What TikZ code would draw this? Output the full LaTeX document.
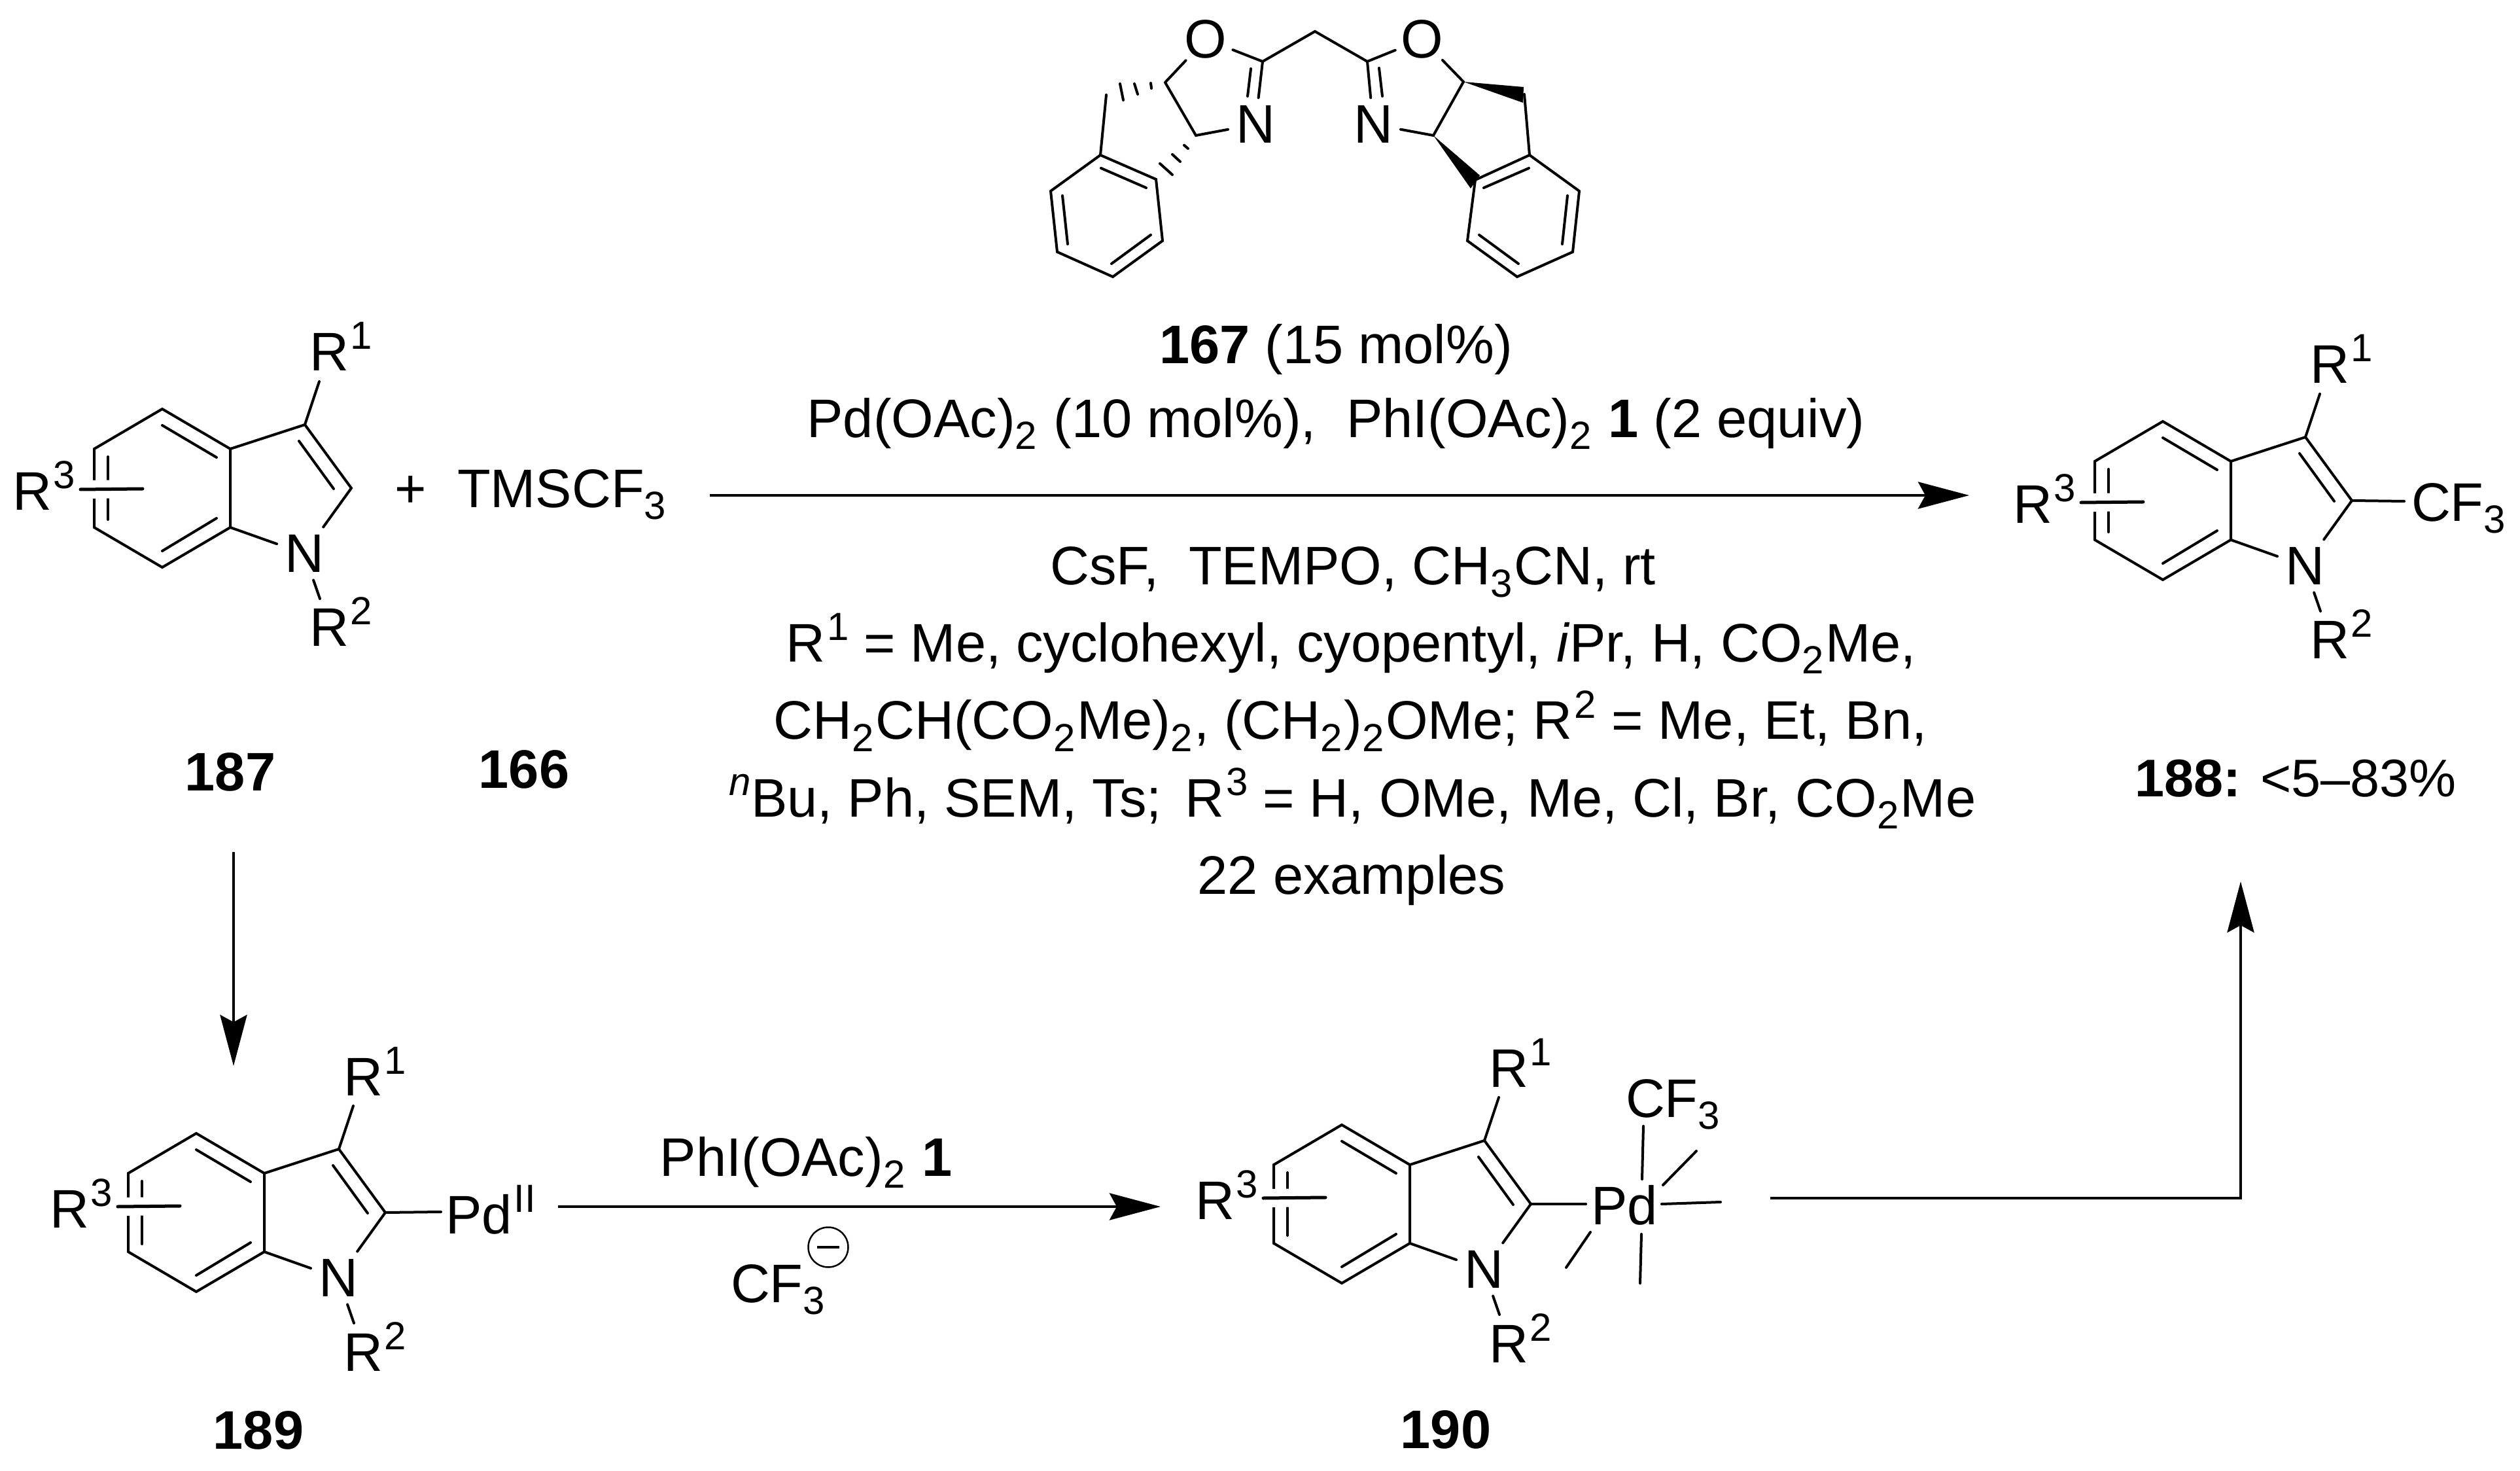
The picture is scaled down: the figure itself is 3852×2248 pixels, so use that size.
\documentclass[tikz,border=0pt]{standalone}
\usepackage{fontspec}
\setmainfont{Liberation Sans}
\usetikzlibrary{arrows.meta}

\newcommand{\chemsub}[1]{\raisebox{-3.6pt}{\fontsize{12}{12}\selectfont #1}\kern0.5pt\relax}
\newcommand{\chemsup}[1]{\kern0.6pt\relax\raisebox{6.6pt}{\fontsize{12}{12}\selectfont #1}}
\newcommand{\bondline}[3]{\coordinate (#1a) at (#2); \coordinate (#1b) at (#3); \draw[bond] (#1a) -- (#1b);}

\tikzset{
  every node/.style={font=\fontsize{16.6}{20}\selectfont},
  bond/.style={line width=0.8pt,line cap=round},
  subst/.style={line width=1pt,line cap=round,preaction={draw,white,line width=5.6pt,line cap=butt}},
  rxn/.style={line width=0.95pt,-{Stealth[length=15.6pt,width=8.2pt,inset=2.2pt]}},
  atom/.style={inner sep=2.2pt},
  roundatom/.style={circle,inner sep=0pt},
  lbl/.style={anchor=base west,inner sep=0pt},
  txt/.style={anchor=base,inner sep=0pt},
  pics/indole/.style 2 args={code={
    \coordinate (-top) at (0,0);
    \coordinate (-ca) at (104,61);
    \coordinate (-cb) at (104,181);
    \coordinate (-bot) at (0,242);
    \coordinate (-cl) at (-104,181);
    \coordinate (-cu) at (-104,61);
    \coordinate (-cc) at (218,24);
    \coordinate (-cd) at (289,121);
    \node[atom] (-n) at (217,221) {N};
    \draw[bond] (-top) -- (-ca) -- (-cb) -- (-bot) -- (-cl) -- (-cu) -- cycle;
    \draw[bond] (-ca) -- (-cc) -- (-cd) -- (-n) -- (-cb);
    \bondline{-ia}{0,25}{83,74}
    \bondline{-ib}{83,167}{0,217}
    \bondline{-ic}{-83,73}{-83,169}
    \bondline{-id}{209,49}{262,122}
    \coordinate (-rone) at (240,-42);
    \draw[bond] (-cc) -- (-rone);
    \coordinate (-rtwo) at (241,290);
    \draw[bond] (-n) -- (-rtwo);
    \coordinate (-ra) at (#1,#2);
    \coordinate (-rb) at (#1+95,#2-1);
    \draw[subst] (-ra) -- (-rb);
    \node[lbl] (-lone) at (224,-58) {R\chemsup{1}};
    \node[lbl] (-ltwo) at (224,363) {R\chemsup{2}};
    \node[lbl] (-lthree) at (#1-105,#2+32) {R\chemsup{3}};
  }},
}

\begin{document}
\begin{tikzpicture}[x=0.2pt,y=-0.2pt]
  \useasboundingbox (0,0) rectangle (3852,2248);

  \node[roundatom] (lo) at (1843,60) {O};
  \node[atom] (ln) at (1919,190) {N};
  \node[roundatom] (ro) at (2174,60) {O};
  \node[atom] (rn) at (2099,190) {N};
  \coordinate (ch) at (2010,48);
  \coordinate (lb) at (1930,94);
  \coordinate (lc) at (1781,126);
  \coordinate (ld) at (1828,207);
  \coordinate (lf) at (1691,145);
  \coordinate (rb) at (2090,94);
  \coordinate (rc) at (2237,125);
  \coordinate (rd) at (2191,207);
  \coordinate (rf) at (2330,144);
  \coordinate (la1) at (1682,237); \coordinate (la2) at (1767,274); \coordinate (la3) at (1777,368);
  \coordinate (la4) at (1701,423); \coordinate (la5) at (1616,385); \coordinate (la6) at (1606,292);
  \coordinate (ra1) at (2338,237); \coordinate (ra2) at (2255,275); \coordinate (ra3) at (2243,368);
  \coordinate (ra4) at (2319,423); \coordinate (ra5) at (2404,385); \coordinate (ra6) at (2414,292);
  \draw[bond] (lc) -- (lo) -- (lb) -- (ln) -- (ld) -- (lc);
  \draw[bond] (rc) -- (ro) -- (rb) -- (rn) -- (rd) -- (rc);
  \draw[bond] (lb) -- (ch) -- (rb);
  \draw[bond] (lf) -- (la1) -- (la2) -- (la3) -- (la4) -- (la5) -- (la6) -- (la1);
  \draw[bond] (rf) -- (ra1) -- (ra2) -- (ra3) -- (ra4) -- (ra5) -- (ra6) -- (ra1);
  \bondline{lia}{1912,105}{1907,147}
  \bondline{lib}{1683,257}{1752,287}
  \bondline{lic}{1759,359}{1699,403}
  \bondline{lid}{1632,373}{1624,299}
  \bondline{ria}{2108,104}{2113,147}
  \bondline{rib}{2337,257}{2268,287}
  \bondline{ric}{2261,359}{2321,403}
  \bondline{rid}{2388,373}{2396,299}
  \bondline{hsa}{1759,127}{1760,135}
  \bondline{hsb}{1734,128}{1739,144}
  \bondline{hsc}{1712,128}{1717,153}
  \bondline{hsd}{1810,222}{1816,227}
  \bondline{hse}{1792,236}{1804,247}
  \bondline{hsf}{1773,250}{1792,267}
  \coordinate (wa) at (2329,133); \coordinate (wb) at (2328,157);
  \coordinate (wc) at (2262,268); \coordinate (wd) at (2248,288);
  \fill (rc) -- (wa) -- (wb) -- cycle;
  \fill (rd) -- (wc) -- (wd) -- cycle;

  \pic (ind187) at (248,625) {indole={-125}{123}};
  \pic (ind188) at (3306,644) {indole={-125}{124}};
  \pic (ind189) at (300,1732) {indole={-120}{112}};
  \pic (ind190) at (2051,1719) {indole={-120}{112}};

  \node[txt] (plus) at (628,776) {+};
  \node[lbl] (tms) at (698,776) {TMSCF\chemsub{3}};
  \node[lbl] (cfa) at (3685,797) {CF\chemsub{3}};
  \coordinate (cfaend) at (3675,766);
  \draw[bond] (ind188-cd) -- (cfaend);
  \node[lbl] (pdb) at (680,1885) {Pd\chemsup{II}};
  \coordinate (pdbend) at (674,1852);
  \draw[bond] (ind189-cd) -- (pdbend);
  \node[lbl] (pdc) at (2431,1871) {Pd};
  \coordinate (pdcend) at (2424,1840);
  \draw[bond] (ind190-cd) -- (pdcend);
  \node[lbl] (cfc) at (2484,1707) {CF\chemsub{3}};
  \bondline{pda}{2512,1721}{2510,1802}
  \bondline{pde}{2593,1759}{2542,1811}
  \bondline{pdf}{2540,1840}{2630,1837}
  \bondline{pdg}{2509,1886}{2507,1961}
  \bondline{pdh}{2431,1883}{2394,1937}

  \node[txt] (lbla) at (352,1208) {\textbf{187}};
  \node[txt] (lblb) at (801,1204) {\textbf{166}};
  \node[txt,font=\fontsize{16.2}{20}\selectfont] (lblc) at (3509,1218) {\textbf{188:} <5–83\%};
  \node[txt] (lbld) at (395,2214) {\textbf{189}};
  \node[txt] (lble) at (2210,2213) {\textbf{190}};

  \node[txt] (conda) at (2042,556) {\textbf{167} (15 mol\%)};
  \node[txt] (condb) at (2042,669) {Pd(OAc)\chemsub{2} (10 mol\%),\ \ PhI(OAc)\chemsub{2} \textbf{1} (2 equiv)};
  \node[txt] (condc) at (2068,894) {CsF,\ \ TEMPO, CH\chemsub{3}CN, rt};
  \node[txt] (condd) at (2065,1012) {R\chemsup{1} = Me, cyclohexyl, cyopentyl, \textit{i}Pr, H, CO\chemsub{2}Me,};
  \node[txt] (conde) at (2064,1130) {CH\chemsub{2}CH(CO\chemsub{2}Me)\chemsub{2}, (CH\chemsub{2})\chemsub{2}OMe; R\chemsup{2} = Me, Et, Bn,};
  \node[txt] (condf) at (2066,1248) {\chemsup{\textit{n}}Bu, Ph, SEM, Ts;\ \kern2.5pt\relax R\chemsup{3} = H, OMe, Me, Cl, Br, CO\chemsub{2}Me};
  \node[txt] (condg) at (2066,1366) {22 examples};

  \node[txt] (stepa) at (1232,1797) {PhI(OAc)\chemsub{2} \textbf{1}};
  \node[lbl] (stepb) at (1116,1990) {CF\chemsub{3}};
  \node[circle,draw,line width=0.5pt,inner sep=0pt,minimum size=12.2pt] (minus) at (1266,1906) {\rule{6.8pt}{0.8pt}};

  \coordinate (arra) at (1085,757); \coordinate (arrb) at (3010,757);
  \coordinate (arrc) at (357,1302); \coordinate (arrd) at (357,1629);
  \coordinate (arre) at (853,1844); \coordinate (arrf) at (1774,1844);
  \coordinate (arrg) at (2706,1831); \coordinate (arrh) at (3425,1347);
  \draw[rxn] (arra) -- (arrb);
  \draw[rxn] (arrc) -- (arrd);
  \draw[rxn] (arre) -- (arrf);
  \draw[rxn] (arrg) -| (arrh);
\end{tikzpicture}
\end{document}
